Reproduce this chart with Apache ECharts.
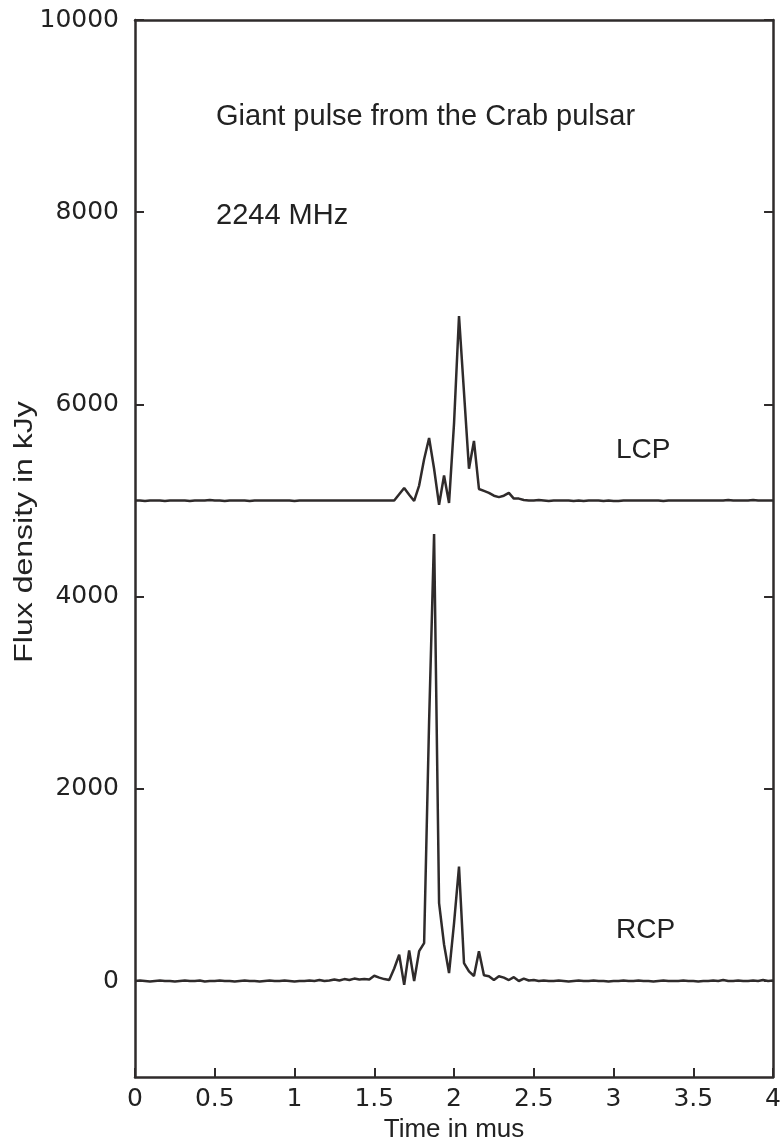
<!DOCTYPE html>
<html>
<head>
<meta charset="utf-8">
<title>Giant pulse from the Crab pulsar</title>
<script src="https://cdn.jsdelivr.net/npm/echarts@6/dist/echarts.min.js"></script>
<style>
  html, body { margin: 0; padding: 0; background: #ffffff; }
  #chart { width: 784px; height: 1148px; }
</style>
</head>
<body>
<div id="chart"></div>
<script>
// Flux density of one giant pulse at 2244 MHz, sampled every 1/32 µs from 0 to 4 µs.
const sampleStep = 0.03125;

// Right-hand circular polarisation, kJy
const rcp = [
  0, 5, 0, -5, 0, 5, 0, 0, -5, 0,
  5, 0, 0, 5, -5, 0, 0, 5, 0, 0,
  -5, 0, 5, 0, 0, -5, 0, 5, 0, 0,
  5, 0, -5, 0, 0, 5, 0, 10, 0, 5,
  15, 5, 20, 10, 25, 15, 20, 15, 55, 35,
  20, 10, 130, 273, -40, 318, 0, 310, 395, 2700,
  4650, 810, 380, 83, 600, 1190, 187, 100, 52, 310,
  60, 50, 10, 50, 35, 10, 40, 0, 25, 5,
  10, 0, 5, 0, 0, 5, 0, -5, 0, 5,
  0, 0, 5, 0, 0, -5, 0, 0, 5, 0,
  0, 5, 0, 0, -5, 0, 5, 0, 0, 0,
  5, 0, 0, -5, 0, 0, 5, 0, 10, 0,
  0, 5, 0, 0, 5, 0, 10, 0, 5
];

// Left-hand circular polarisation, kJy (plotted with its 5000 kJy offset)
const lcp = [
  5000, 5000, 4995, 5000, 5000, 5000, 4995, 5000, 5000, 5000,
  5000, 4995, 5000, 5000, 5000, 5005, 5000, 5000, 4995, 5000,
  5000, 5000, 5000, 4995, 5000, 5000, 5000, 5000, 5000, 5000,
  5000, 5000, 4995, 5000, 5000, 5000, 5000, 5000, 5000, 5000,
  5000, 5000, 5000, 5000, 5000, 5000, 5000, 5000, 5000, 5000,
  5000, 5000, 5000, 5065, 5130, 5060, 4995, 5155, 5430, 5650,
  5330, 4955, 5260, 4975, 5800, 6920, 6125, 5330, 5620, 5120,
  5100, 5080, 5050, 5035, 5050, 5080, 5020, 5020, 5005, 5000,
  5000, 5005, 5000, 4995, 5000, 5000, 5000, 5000, 4995, 5000,
  4995, 5000, 5000, 5000, 4995, 5000, 4995, 4995, 5000, 5000,
  5000, 5000, 5000, 5000, 5000, 5000, 4995, 5000, 5000, 5000,
  5000, 5000, 5000, 5000, 5000, 5000, 5000, 5000, 5000, 5005,
  5000, 5000, 5000, 5000, 5005, 5000, 5000, 5000, 5000
];

const yTickValues = [0, 2000, 4000, 6000, 8000, 10000];
const xTickInterval = 0.5;

const times = rcp.map((_, i) => i * sampleStep);
const rcpPoints = times.map((t, i) => [t, rcp[i]]);
const lcpPoints = times.map((t, i) => [t, lcp[i]]);

const ink = '#2f2b2b';
const textInk = '#222222';
const tickFont = { fontFamily: 'DejaVu Sans', fontSize: 25, color: textInk };
const plainNumber = v => String(v);

const chart = echarts.init(document.getElementById('chart'), null, { renderer: 'canvas' });

chart.setOption({
  animation: false,
  backgroundColor: '#ffffff',
  grid: { left: 135, right: 8, top: 20, bottom: 69, containLabel: false },
  xAxis: [
    {
      type: 'value', position: 'bottom', min: 0, max: 4, interval: xTickInterval,
      name: 'Time in mus', nameLocation: 'middle', nameGap: 38,
      nameTextStyle: { fontFamily: 'Liberation Sans', fontSize: 26, color: textInk },
      axisLine: { show: true, onZero: false, lineStyle: { color: ink, width: 2.5 } },
      axisTick: { show: true, inside: true, length: 9, lineStyle: { color: ink, width: 2 } },
      axisLabel: Object.assign({ margin: 10, formatter: plainNumber }, tickFont),
      splitLine: { show: false }
    },
    {
      type: 'value', position: 'top', min: 0, max: 4,
      axisLine: { show: true, onZero: false, lineStyle: { color: ink, width: 2.5 } },
      axisTick: { show: false }, axisLabel: { show: false }, splitLine: { show: false }
    }
  ],
  yAxis: [
    {
      type: 'value', position: 'left', min: -1000, max: 10000, interval: 1000,
      axisLine: { show: true, onZero: false, lineStyle: { color: ink, width: 2.5 } },
      axisTick: { show: true, inside: true, length: 9, customValues: yTickValues, lineStyle: { color: ink, width: 2 } },
      axisLabel: Object.assign({ margin: 16, customValues: yTickValues, formatter: plainNumber }, tickFont),
      splitLine: { show: false }
    },
    {
      type: 'value', position: 'right', min: -1000, max: 10000, interval: 1000,
      axisLine: { show: true, onZero: false, lineStyle: { color: ink, width: 2.5 } },
      axisTick: { show: true, inside: true, length: 9, customValues: yTickValues, lineStyle: { color: ink, width: 2 } },
      axisLabel: { show: false }, splitLine: { show: false }
    }
  ],
  series: [
    {
      name: 'LCP', type: 'line', data: lcpPoints, showSymbol: false, smooth: false,
      lineStyle: { color: ink, width: 2.5 }, z: 3
    },
    {
      name: 'RCP', type: 'line', data: rcpPoints, showSymbol: false, smooth: false,
      lineStyle: { color: ink, width: 2.5 }, z: 3
    }
  ],
  graphic: [
    {
      type: 'text', left: 216, top: 102,
      style: { text: 'Giant pulse from the Crab pulsar', font: '29px "Liberation Sans"', fill: textInk }
    },
    {
      type: 'text', left: 216, top: 201,
      style: { text: '2244 MHz', font: '29px "Liberation Sans"', fill: textInk }
    },
    {
      type: 'text', left: 616, top: 436,
      style: { text: 'LCP', font: '28px "Liberation Sans"', fill: textInk }
    },
    {
      type: 'text', left: 616, top: 916,
      style: { text: 'RCP', font: '28px "Liberation Sans"', fill: textInk }
    },
    {
      type: 'text', x: 25, y: 532, rotation: Math.PI / 2, scaleX: 1.28,
      style: {
        text: 'Flux density in kJy', font: '25px "Liberation Sans"', fill: textInk,
        textAlign: 'center', textVerticalAlign: 'middle'
      }
    }
  ]
});
</script>
</body>
</html>
